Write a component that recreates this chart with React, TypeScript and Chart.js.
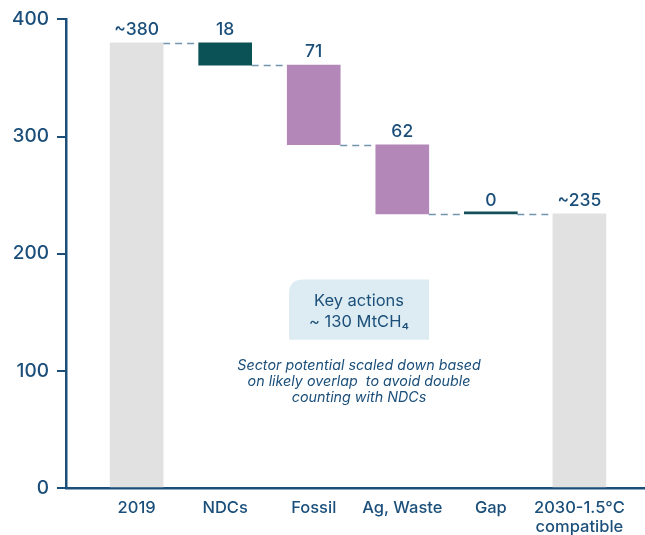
import React, { useEffect, useRef } from 'react';
import { Chart, registerables } from 'chart.js';

Chart.register(...registerables);

const categories: string[][] = [['2019'], ['NDCs'], ['Fossil'], ['Ag, Waste'], ['Gap'], ['2030-1.5°C', 'compatible']];
const barLows = [0, 361, 293, 234, 234, 0];
const barHighs = [380, 380, 361, 293, 234, 234];
const valueLabels = ['~380', '18', '71', '62', '0', '~235'];
const barColors = ['#e1e1e1', '#0b5256', '#b388b8', '#b388b8', '#14505a', '#e1e1e1'];
const connectorLevels = [380, 361, 293, 234, 234];
const yTicks = [0, 100, 200, 300, 400];
const noteTitle = ['Key actions', '~ 130 MtCH\u2084'];
const noteBody = ['Sector potential scaled down based', 'on likely overlap  to avoid double', 'counting with NDCs'];

const NAVY = '#1b4f7a';
const FONT = 'Inter, "Noto Sans", sans-serif';

const overlayPlugin = {
  id: 'overlay',
  beforeDatasetsDraw(chart: any) {
    const ctx = chart.ctx;
    const meta = chart.getDatasetMeta(0);
    const y = chart.scales.y;
    ctx.save();
    ctx.strokeStyle = '#7395ae';
    ctx.lineWidth = 1.4;
    ctx.setLineDash([7, 5]);
    for (let i = 0; i < connectorLevels.length; i++) {
      const a = meta.data[i];
      const b = meta.data[i + 1];
      const py = Math.round(y.getPixelForValue(connectorLevels[i])) + 0.5;
      ctx.beginPath();
      ctx.moveTo(a.x + a.width / 2, py);
      ctx.lineTo(b.x - b.width / 2, py);
      ctx.stroke();
    }
    ctx.restore();
  },
  afterDatasetsDraw(chart: any) {
    const ctx = chart.ctx;
    const meta = chart.getDatasetMeta(0);
    const x = chart.scales.x;
    const y = chart.scales.y;
    ctx.save();
    ctx.fillStyle = NAVY;
    ctx.textAlign = 'center';
    ctx.textBaseline = 'middle';
    ctx.font = `500 17.5px ${FONT}`;
    meta.data.forEach((bar: any, i: number) => {
      const top = y.getPixelForValue(barHighs[i]);
      ctx.fillText(valueLabels[i], bar.x, top - 13);
    });

    // annotation box
    const cx = x.getPixelForValue(2.5);
    const bx = cx - 69;
    const by = y.getPixelForValue(178);
    const bw = 140;
    const bh = y.getPixelForValue(126.5) - by;
    const r = 14;
    ctx.fillStyle = '#dcecf2';
    ctx.beginPath();
    ctx.moveTo(bx + r, by);
    ctx.lineTo(bx + bw, by);
    ctx.lineTo(bx + bw, by + bh);
    ctx.lineTo(bx, by + bh);
    ctx.lineTo(bx, by + r);
    ctx.quadraticCurveTo(bx, by, bx + r, by);
    ctx.closePath();
    ctx.fill();

    ctx.fillStyle = NAVY;
    ctx.font = `400 16.5px ${FONT}`;
    ctx.fillText(noteTitle[0], bx + bw / 2, by + 22);
    ctx.fillText(noteTitle[1], bx + bw / 2, by + 43);

    ctx.font = `italic 400 14.3px ${FONT}`;
    const ty = y.getPixelForValue(104);
    noteBody.forEach((line, i) => {
      ctx.fillText(line, cx + 1, ty + i * 15.7);
    });
    ctx.restore();
  },
};

export default function App() {
  const ref = useRef<HTMLCanvasElement>(null);
  useEffect(() => {
    if (!ref.current) return;
    const chart = new Chart(ref.current, {
      type: 'bar',
      data: {
        datasets: [
          {
            data: categories.map((_, i) => ({ x: i, y: [barLows[i], barHighs[i]] })) as any,
            backgroundColor: barColors,
            borderWidth: 0,
            barThickness: 53,
            minBarLength: 2,
          },
        ],
      },
      options: {
        animation: false,
        responsive: false,
        maintainAspectRatio: false,
        layout: { padding: { top: 15, right: 0, bottom: 0, left: 0 } },
        plugins: { legend: { display: false }, tooltip: { enabled: false } },
        scales: {
          x: {
            type: 'linear',
            offset: false,
            min: -0.7975,
            max: 5.741,
            afterBuildTicks: (s: any) => {
              s.ticks = categories.map((_, i) => ({ value: i }));
            },
            afterFit: (s: any) => {
              s.height = 47;
            },
            ticks: {
              autoSkip: false,
              maxRotation: 0,
              padding: 11,
              color: NAVY,
              font: { family: FONT, size: 16.5, weight: 500, lineHeight: 1.15 },
              callback: (v: any) => {
                const c = categories[Math.round(Number(v))];
                return c ? (c.length > 1 ? c : c[0]) : '';
              },
            },
            grid: { display: false, drawTicks: false },
            border: { display: true, color: NAVY, width: 2.5 },
          },
          y: {
            min: 0,
            max: 400,
            afterBuildTicks: (s: any) => {
              s.ticks = yTicks.map((v) => ({ value: v }));
            },
            afterFit: (s: any) => {
              s.width = 66;
            },
            ticks: {
              padding: 8,
              color: NAVY,
              font: { family: FONT, size: 19, weight: 500 },
            },
            grid: { drawOnChartArea: false, drawTicks: true, tickLength: 9, color: NAVY, lineWidth: 2 },
            border: { display: true, color: NAVY, width: 2.5 },
          },
        },
      },
      plugins: [overlayPlugin],
    });
    return () => chart.destroy();
  }, []);
  return (
    <div style={{ position: 'fixed', left: 0, top: 0, width: 645, height: 535 }}>
      <canvas ref={ref} width={645} height={535} />
    </div>
  );
}
